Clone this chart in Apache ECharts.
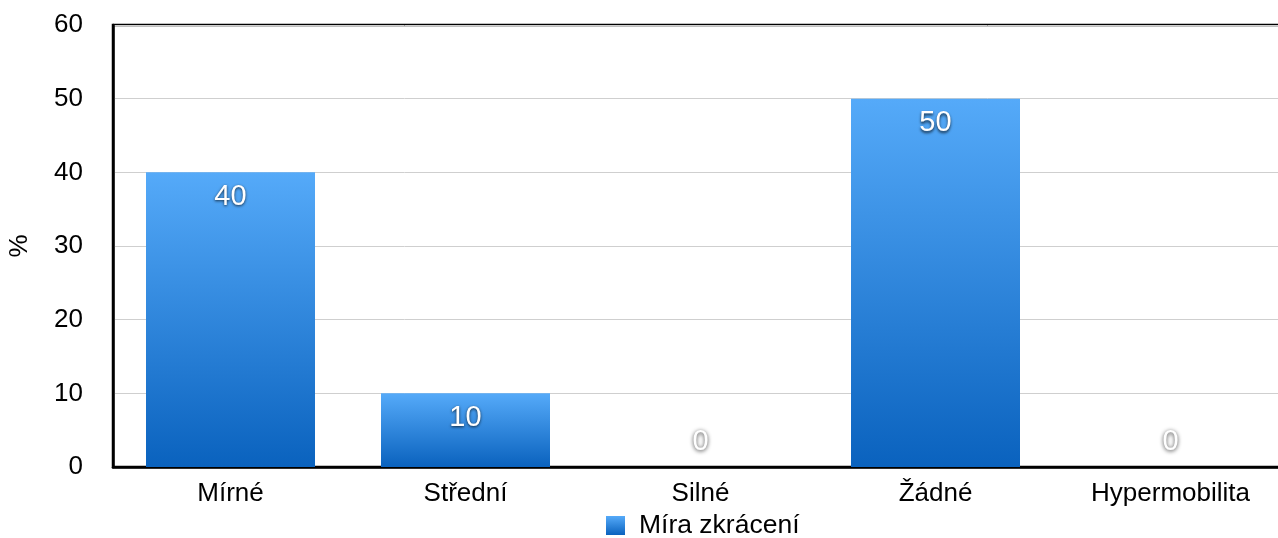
<!DOCTYPE html>
<html>
<head>
<meta charset="utf-8">
<script src="https://cdn.jsdelivr.net/npm/echarts@6/dist/echarts.min.js"></script>
<style>
  html, body { margin: 0; padding: 0; background: #fff; }
  #chart { width: 1278px; height: 538px; }
</style>
</head>
<body>
<div id="chart"></div>
<script>
// Degree of muscle shortening, share of respondents (%)
const categories = ['Mírné', 'Střední', 'Silné', 'Žádné', 'Hypermobilita'];
const values = [40, 10, 0, 50, 0];
const seriesName = 'Míra zkrácení';
const yTicks = { min: 0, max: 60, interval: 10 };
const axisTitle = '%';

const fontFamily = '"Liberation Sans", Helvetica, Arial, sans-serif';

const barFill = new echarts.graphic.LinearGradient(0, 0, 0, 1, [
  { offset: 0, color: '#55aaf9' },
  { offset: 1, color: '#0a62be' }
]);

const labelBase = {
  show: true,
  color: '#ffffff',
  fontSize: 29,
  fontFamily: fontFamily,
  textShadowColor: 'rgba(0,0,0,0.75)',
  textShadowBlur: 3,
  textShadowOffsetY: 1.5
};

// zero-height bars keep their value label just above the baseline
const seriesData = values.map(v => {
  if (v === 0) {
    return {
      value: v,
      label: Object.assign({}, labelBase, {
        position: 'insideBottom',
        distance: 11,
        textShadowColor: 'rgba(0,0,0,0.8)',
        textShadowBlur: 4
      })
    };
  }
  return { value: v };
});

const chart = echarts.init(document.getElementById('chart'), null, { renderer: 'canvas' });
chart.setOption({
  animation: false,
  backgroundColor: '#ffffff',
  grid: {
    left: 113,
    top: 25,
    width: 1175,
    height: 442,
    show: true,
    borderColor: '#000',
    borderWidth: 2.5,
    containLabel: false,
    outerBoundsMode: 'none'
  },
  legend: {
    top: 507,
    left: 601,
    itemWidth: 19,
    itemHeight: 19,
    itemGap: 10,
    icon: 'rect',
    textStyle: { fontSize: 26.5, color: '#000', fontFamily: fontFamily, padding: [0, 0, 0, 9] },
    data: [{ name: seriesName, itemStyle: { color: barFill } }]
  },
  xAxis: {
    type: 'category',
    data: categories,
    axisLine: { show: true, lineStyle: { color: '#000', width: 2.5 } },
    axisTick: { show: false },
    axisLabel: { fontSize: 26, color: '#000', fontFamily: fontFamily, margin: 14 }
  },
  yAxis: {
    type: 'value',
    min: yTicks.min,
    max: yTicks.max,
    interval: yTicks.interval,
    name: axisTitle,
    nameLocation: 'middle',
    nameGap: 80,
    nameRotate: 90,
    nameTextStyle: { fontSize: 26, color: '#000', fontFamily: fontFamily },
    axisLine: { show: true, lineStyle: { color: '#000', width: 2.5 } },
    axisTick: { show: false },
    axisLabel: { fontSize: 26, color: '#000', fontFamily: fontFamily, margin: 30 },
    splitLine: { show: true, lineStyle: { color: '#cfcfcf', width: 1 } }
  },
  series: [{
    name: seriesName,
    type: 'bar',
    data: seriesData,
    barWidth: 169,
    itemStyle: { color: barFill },
    label: Object.assign({}, labelBase, { position: 'insideTop', distance: 10 })
  }]
});
</script>
</body>
</html>
